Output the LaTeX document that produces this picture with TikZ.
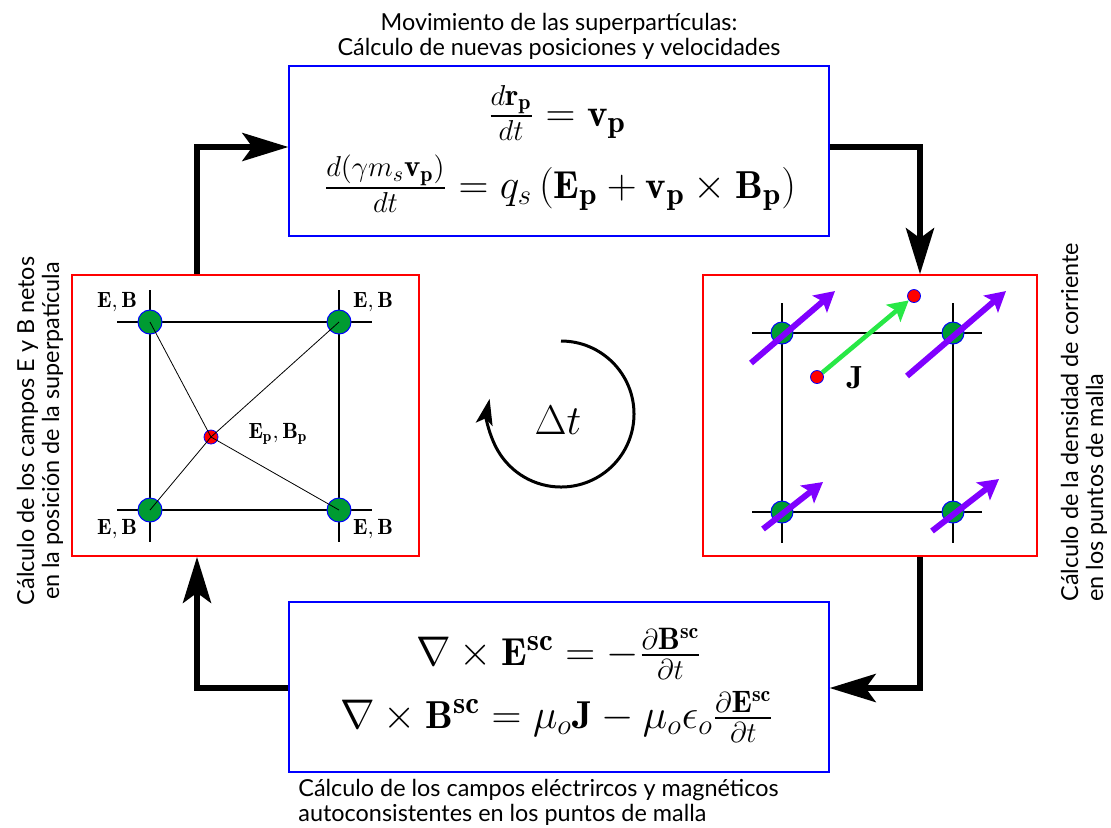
\documentclass[tikz,border=0pt]{standalone}
\usepackage{amsmath}
\usepackage{fontspec}
\newfontfamily\labfont{Lato}
\DeclareMathSizes{19.5}{19.5}{15.5}{11}
\usetikzlibrary{arrows.meta,calc}
\definecolor{ptgreen}{RGB}{0,155,50}
\definecolor{jgreen}{RGB}{40,232,70}
\definecolor{vio}{RGB}{128,0,255}
\begin{document}
\begin{tikzpicture}[x=0.5pt,y=-0.5pt,
  bluebox/.style={draw=blue, line width=0.6pt, minimum width=270pt, minimum height=85pt, inner sep=0pt},
  redbox/.style={draw=red, line width=0.8pt, inner sep=0pt},
  conn/.style={line width=3pt, -{Stealth[length=23pt,width=14pt,inset=5pt]}},
  gridline/.style={line width=0.6pt},
  thinline/.style={line width=0.4pt},
  gpt/.style={circle, fill=ptgreen, draw=blue, line width=0.5pt, minimum size=12pt, inner sep=0pt},
  gptr/.style={gpt, minimum size=11pt},
  part/.style={circle, fill=red, draw=blue, line width=0.4pt, minimum size=7pt, inner sep=0pt},
  partr/.style={part, minimum size=6.5pt},
  varrow/.style={draw=vio, line width=3pt, -{Stealth[length=10pt,width=11pt,inset=2pt]}},
  garrow/.style={draw=jgreen, line width=2.3pt, -{Stealth[length=10pt,width=11pt,inset=2pt]}},
  txt/.style={font=\labfont\fontsize{11.7}{12.6}\selectfont, inner sep=0pt},
  eq/.style={font=\fontsize{19.5}{23}\selectfont, inner sep=0pt},
  eb/.style={font=\fontsize{11}{13}\selectfont, inner sep=0pt}
]
\useasboundingbox (0,0) rectangle (1111,827);

% boxes
\node[bluebox] (top) at (559,151) {};
\node[bluebox] (bot) at (559,687) {};
\node[redbox, minimum width=173.5pt, minimum height=140.5pt] (lbox) at (245.5,415.5) {};
\node[redbox, minimum width=167pt, minimum height=140.5pt] (rbox) at (870,415.5) {};

% texts
\node[txt, align=center] (ttop) at (559,36) {Movimiento de las superpartículas:\\Cálculo de nuevas posiciones y velocidades};
\node[txt, align=left, anchor=west] (tbot) at (298,802) {Cálculo de los campos eléctrircos y magnéticos\\autoconsistentes en los puntos de malla};
\node[txt, align=center, rotate=90] (tleft) at (40,431) {Cálculo de los campos E y B netos\\en la posición de la superpatícula};
\node[txt, align=left, rotate=90, anchor=west] (tright) at (1084,602) {Cálculo de la densidad de corriente\\en los puntos de malla};

% equations
\node[eq] (e1) at (557,113) {$\frac{d\mathbf{r_p}}{dt} = \mathbf{v_p}$};
\node[eq] (e2) at (560,184) {$\frac{d(\gamma m_s \mathbf{v_p})}{dt} = q_s\left(\mathbf{E_p}+\mathbf{v_p}\times\mathbf{B_p}\right)$};
\node[eq] (e3) at (559,654) {$\nabla\times\mathbf{E^{sc}} = -\frac{\partial\mathbf{B^{sc}}}{\partial t}$};
\node[eq] (e4) at (557,717) {$\nabla\times\mathbf{B^{sc}} = \mu_o\mathbf{J} - \mu_o\epsilon_o\frac{\partial\mathbf{E^{sc}}}{\partial t}$};

% connectors
\coordinate (c1) at (197,147);
\coordinate (c2) at (920,147);
\coordinate (c3) at (920,688);
\coordinate (c4) at (197,688);
\draw[conn] (lbox.north -| c1) |- (top.west |- c1);
\draw[conn] (top.east |- c2) -| (rbox.north -| c2);
\draw[conn] (rbox.south -| c3) |- (bot.east |- c3);
\draw[conn] (bot.west |- c4) -| (lbox.south -| c4);

% left box grid
\draw[gridline] (117,322) -- (372,322) (117,510) -- (372,510)
  (150,290) -- (150,542) (339,290) -- (339,542);
\node[gpt] (lg1) at (150,322) {};
\node[gpt] (lg2) at (339,322) {};
\node[gpt] (lg3) at (150,510) {};
\node[gpt] (lg4) at (339,510) {};
\node[part] (lp) at (211,437) {};
\draw[thinline] (lg1.center) -- (lp.center) (lg2.center) -- (lp.center)
  (lg3.center) -- (lp.center) (lg4.center) -- (lp.center);
\node[eb] (l1) at (117,302) {$\mathbf{E},\mathbf{B}$};
\node[eb] (l2) at (373,302) {$\mathbf{E},\mathbf{B}$};
\node[eb] (l3) at (117,529) {$\mathbf{E},\mathbf{B}$};
\node[eb] (l4) at (373,529) {$\mathbf{E},\mathbf{B}$};
\node[eb] (l5) at (278,434) {$\mathbf{E_p},\mathbf{B_p}$};

% right box grid
\draw[gridline] (752,333) -- (982,333) (752,512) -- (982,512)
  (782,303) -- (782,543) (953,303) -- (953,543);
\node[gptr] (rg1) at (782,333) {};
\node[gptr] (rg2) at (953,333) {};
\node[gptr] (rg3) at (782,512) {};
\node[gptr] (rg4) at (953,512) {};
\draw[varrow] ($(rg1)+(-31,30)$) -- ($(rg1)+(53,-42)$);
\draw[varrow] ($(rg2)+(-46,43)$) -- ($(rg2)+(53,-42)$);
\draw[varrow] ($(rg3)+(-19,17)$) -- ($(rg3)+(41,-30)$);
\draw[varrow] ($(rg4)+(-21,19)$) -- ($(rg4)+(46,-33)$);
\node[partr] (rp1) at (817,377) {};
\node[partr] (rp2) at (914,296) {};
\draw[garrow] (rp1) -- (rp2);
\node[font=\fontsize{16}{19}\selectfont, inner sep=0pt] (jl) at (855,378) {$\mathbf{J}$};

% centre cycle
\node[font=\fontsize{20}{24}\selectfont, inner sep=0pt] (dt) at (558,420) {$\Delta t$};
\coordinate (cc) at (561,414);
\draw[line width=1.5pt, -{Stealth[length=13pt,width=8.5pt,inset=3pt]}] ($(cc)+(0,-73)$) arc[start angle=90, end angle=-192, radius=36.5pt];
\end{tikzpicture}
\end{document}
